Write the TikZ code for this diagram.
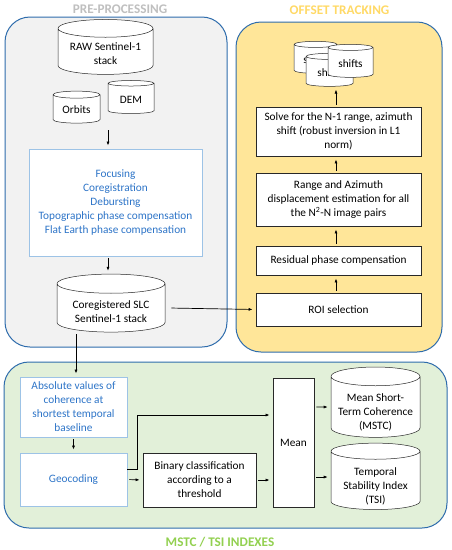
\documentclass[tikz,border=0pt]{standalone}
\usepackage{fontspec}
\setmainfont{Carlito}
\usetikzlibrary{arrows.meta,shapes.geometric}
\definecolor{preBg}{RGB}{242,242,242}
\definecolor{preTitle}{RGB}{191,191,191}
\definecolor{otBg}{RGB}{255,230,153}
\definecolor{otTitle}{RGB}{255,217,102}
\definecolor{idxBg}{RGB}{226,240,217}
\definecolor{idxTitle}{RGB}{146,208,80}
\definecolor{panelLine}{RGB}{46,108,172}
\definecolor{procText}{RGB}{46,117,200}
\definecolor{procLine}{RGB}{157,195,230}
\definecolor{boxLine}{RGB}{40,40,40}
% text of a cylinder sits a little below its centre
\newcommand{\dbtext}[2][5pt]{\raisebox{-#1}[\height][\depth]{\begin{tabular}{@{}c@{}}#2\end{tabular}}}

\begin{document}
\begin{tikzpicture}[
  x=1pt,y=-1pt,
  font=\fontsize{11.3}{14}\selectfont,
  >={Latex[length=4pt,width=3pt]},
  panel/.style={draw=panelLine,line width=1pt,rounded corners=25pt,inner sep=0pt},
  grouptitle/.style={font=\fontsize{13.2}{15}\selectfont\bfseries},
  task/.style={draw=boxLine,line width=0.8pt,fill=white,align=center,inner sep=2pt},
  proc/.style={draw=procLine,line width=0.8pt,fill=white,align=center,text=procText,inner sep=2pt},
  store/.style={cylinder,shape border rotate=90,draw=boxLine,line width=0.5pt,fill=white,align=center,inner sep=0pt,aspect=0.25},
  arrow/.style={->,line width=0.7pt,draw=black,shorten <=2pt,shorten >=3pt}
]
\useasboundingbox (0,0) rectangle (451,550);

% panels
\node[panel,fill=preBg,minimum width=222pt,minimum height=330pt] (prepanel) at (116,182) {};
\node[panel,fill=otBg,minimum width=206pt,minimum height=330pt] (otpanel) at (339,187) {};
\node[panel,fill=idxBg,minimum width=443pt,minimum height=166pt] (idxpanel) at (225.5,445) {};

\node[grouptitle,text=preTitle] (pretitle) at (120,9) {PRE-PROCESSING};
\node[grouptitle,text=otTitle] (ottitle) at (339.5,10) {OFFSET TRACKING};
\node[grouptitle,text=idxTitle] (idxtitle) at (220,542) {MSTC / TSI INDEXES};

% pre-processing
\node[store,minimum width=95pt,minimum height=47pt] (raw) at (105.5,51.5) {\dbtext[3pt]{RAW Sentinel-1\\stack}};
\node[store,minimum width=47pt,minimum height=32pt] (orbits) at (76.5,109) {\dbtext[2pt]{Orbits}};
\node[store,minimum width=46pt,minimum height=33pt] (dem) at (131,98.5) {\dbtext[2pt]{DEM}};
\coordinate (inputs) at (108,128);
\node[proc,minimum width=173pt,minimum height=107pt] (focus) at (115.5,202.5) {
  Focusing\\
  Coregistration\\
  Debursting\\
  Topographic phase compensation\\
  Flat Earth phase compensation
};
\node[store,minimum width=108pt,minimum height=58pt] (coreg) at (111,308) {\dbtext{Coregistered SLC\\Sentinel-1 stack}};

% offset tracking
\node[store,minimum width=43pt,minimum height=32pt] (shiftsA) at (315.5,59) {\dbtext[2pt]{shifts}};
\node[store,minimum width=47pt,minimum height=33pt] (shiftsB) at (329.5,71.5) {\dbtext[2pt]{shifts}};
\node[store,minimum width=45pt,minimum height=33pt] (shiftsC) at (350.5,62.5) {\dbtext[2pt]{shifts}};
\node[task,minimum width=165pt,minimum height=49pt] (solve) at (338.5,131.5) {
  Solve for the N-1 range, azimuth\\
  shift (robust inversion in L1\\
  norm)
};
\node[task,minimum width=165pt,minimum height=53pt] (disp) at (338.5,199.5) {
  Range and Azimuth\\
  displacement estimation for all\\
  the N\textsuperscript{2}-N image pairs
};
\node[task,minimum width=165pt,minimum height=29pt] (resid) at (338.5,260.5) {Residual phase compensation};
\node[task,minimum width=165pt,minimum height=33pt] (roi) at (338.5,309.5) {ROI selection};

% indexes
\node[proc,minimum width=107pt,minimum height=60pt] (absval) at (73.5,407) {
  Absolute values of\\
  coherence at\\
  shortest temporal\\
  baseline
};
\node[proc,minimum width=107pt,minimum height=53pt] (geo) at (73.5,479.5) {Geocoding};
\node[task,minimum width=113pt,minimum height=54pt] (binary) at (199.5,480) {
  Binary classification\\
  according to a\\
  threshold
};
\node[task,minimum width=41pt,minimum height=129pt] (mean) at (293.5,442.5) {Mean};
\node[store,minimum width=89pt,minimum height=62pt] (mstc) at (375.5,407) {\dbtext[6pt]{Mean Short-\\Term Coherence\\(MSTC)}};
\node[store,minimum width=89pt,minimum height=65pt] (tsi) at (375.5,480.5) {\dbtext[6pt]{Temporal\\Stability Index\\(TSI)}};

% connectors
\draw[arrow] (inputs) -- (inputs |- focus.north);
\draw[arrow] (inputs |- focus.south) -- (inputs |- coreg.north);
\draw[arrow] ([xshift=4pt]coreg.east) -- (roi.west);
\draw[arrow] (coreg.south -| 76,0) -- (absval.north -| 76,0);

\draw[arrow] (roi.north -| 336,0) -- (resid.south -| 336,0);
\draw[arrow] (resid.north -| 336,0) -- (disp.south -| 336,0);
\draw[arrow] (disp.north -| 336,0) -- (solve.south -| 336,0);
\draw[arrow] (solve.north -| 336,0) -- (shiftsB.south -| 336,0);

\draw[arrow] (absval.south) -- (geo.north);
\draw[arrow,shorten <=0pt] ([yshift=10pt]geo.east) -| (137,415) -- (mean.west |- 0,415);
\draw[arrow] (geo.east) -- (binary.west);
\draw[arrow] (binary.east) -- (binary.east -| mean.west);
\draw[arrow] (mean.east |- mstc) -- (mstc.west);
\draw[arrow] (mean.east |- 0,477) -- (tsi.west |- 0,477);

\end{tikzpicture}
\end{document}
